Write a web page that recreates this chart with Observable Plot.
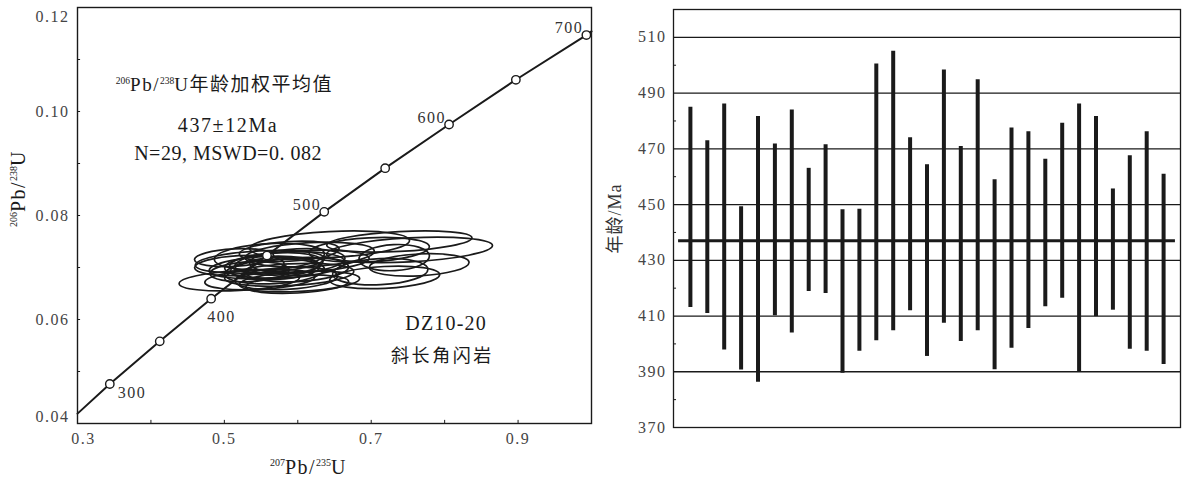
<!DOCTYPE html>
<html><head><meta charset="utf-8">
<script src="https://cdn.jsdelivr.net/npm/d3@7"></script>
<script src="https://cdn.jsdelivr.net/npm/@observablehq/plot@0.6"></script>
<style>
body{margin:0;background:#fff;}
#wrap{position:relative;width:1187px;height:477px;overflow:hidden;background:#fff;}
#left{position:absolute;left:0;top:0;}
#right{position:absolute;left:600px;top:0;}
</style></head><body><div id="wrap"><div id="left"></div><div id="right"></div></div>
<script>
// ---------- Left panel: concordia ----------
const ages = [300, 350, 400, 450, 500, 550, 600, 650, 700];
const ratio207 = [0.344, 0.412, 0.482, 0.558, 0.636, 0.719, 0.806, 0.897, 0.993];
const ratio206 = [0.0476, 0.0558, 0.0640, 0.0723, 0.0807, 0.0891, 0.0975, 0.1061, 0.1147];
const curveX = [0.300, 0.344, 0.412, 0.482, 0.558, 0.636, 0.719, 0.806, 0.897, 0.993, 1.000];
const curveY = [0.0419, 0.0476, 0.0558, 0.0640, 0.0723, 0.0807, 0.0891, 0.0975, 0.1061, 0.1147, 0.1154];

// error ellipses (centres and half-axes in data units)
const ellX  = [0.521,0.549,0.562,0.583,0.569,0.603,0.589,0.549,0.603,0.600,0.617,0.644,0.585,0.600,0.698,0.713,0.732,0.753,0.739,0.719,0.521,0.589,0.535,0.600,0.575,0.555,0.514,0.766,0.570];
const ellY  = [0.0674,0.0710,0.0720,0.0704,0.0691,0.0710,0.0685,0.0676,0.0672,0.0695,0.0724,0.0743,0.0678,0.0712,0.0733,0.0691,0.0718,0.0733,0.0749,0.0680,0.0703,0.0730,0.0691,0.0667,0.0706,0.0699,0.0718,0.0704,0.0697];
const ellRx = [0.082,0.088,0.075,0.082,0.068,0.095,0.088,0.075,0.082,0.070,0.088,0.109,0.070,0.065,0.082,0.065,0.048,0.113,0.099,0.075,0.061,0.068,0.054,0.070,0.060,0.075,0.054,0.068,0.061];
const ellRy = [0.0019,0.0021,0.0025,0.0025,0.0023,0.0021,0.0021,0.0019,0.0019,0.0023,0.0023,0.0025,0.0021,0.0023,0.0023,0.0025,0.0025,0.0023,0.0019,0.0021,0.0019,0.0019,0.0019,0.0017,0.0021,0.0021,0.0017,0.0021,0.0021];

const xLabelsL = [0.3, 0.5, 0.7, 0.9];
const xTicksL = [0.4, 0.5, 0.6, 0.7, 0.8, 0.9];
const yLabelsL = [0.06, 0.08, 0.10];
const yTicksL = [0.05, 0.06, 0.07, 0.08, 0.09, 0.10, 0.11];

// ---------- Right panel: ages ----------
const spots = d3.range(1, 30);
const ageHigh = [484.9,472.9,486.1,449.2,481.6,471.7,483.9,463.0,471.5,448.1,448.3,500.4,505.0,474.0,464.3,498.3,470.8,494.8,458.9,477.5,476.1,466.3,479.2,486.1,481.6,455.6,467.5,476.1,460.9];
const ageLow  = [413.1,410.9,397.8,390.6,386.2,410.1,403.9,418.8,418.1,389.5,397.4,401.1,404.7,411.9,395.5,407.4,400.9,404.7,390.7,398.4,405.5,413.3,416.4,390.0,409.8,412.1,398.1,397.4,392.6];
const meanAge = 437;
const yLabelsR = [370, 390, 410, 430, 450, 470, 490, 510];
const gridR = [390, 410, 430, 450, 470, 490, 510];
const minorR = [380, 400, 420, 440, 460, 480, 500];

const SERIF = "'Liberation Serif','Noto Sans CJK SC',serif";
const INK = "#1a1a1a";
const GRAY = "#454545";
const idx = a => ages.indexOf(a);
const T = {lineAnchor: "middle"};

const left = Plot.plot({
  width: 600, height: 477,
  marginLeft: 77, marginRight: 9, marginTop: 7, marginBottom: 54,
  x: {domain: [0.3, 1.0], axis: null},
  y: {domain: [0.04, 0.12], axis: null},
  style: {fontFamily: SERIF, background: "#fff"},
  marks: [
    // inside ticks
    Plot.ruleX(xTicksL, {x: d => d, y1: 0.04, y2: 0.04 + 0.0006, stroke: INK, strokeWidth: 1}),
    Plot.ruleY(yTicksL, {y: d => d, x1: 0.3, x2: 0.3 + 0.0042, stroke: INK, strokeWidth: 1}),
    // ellipses
    (index, scales) => {
      const {x, y} = scales;
      const g = d3.create("svg:g").attr("fill", "none").attr("stroke", INK).attr("stroke-width", 1.7);
      for (let i = 0; i < ellX.length; i++) {
        const cx = x(ellX[i]), cy = y(ellY[i]);
        const rx = Math.abs(x(ellX[i] + ellRx[i]) - cx), ry = Math.abs(y(ellY[i] + ellRy[i]) - cy);
        g.append("ellipse").attr("cx", cx).attr("cy", cy).attr("rx", rx).attr("ry", ry)
          .attr("transform", `rotate(-3 ${cx} ${cy})`);
      }
      return g.node();
    },
    Plot.line(curveX, {x: curveX, y: curveY, stroke: INK, strokeWidth: 2}),
    Plot.dot(ages, {x: ratio207, y: ratio206, r: 4.2, fill: "white", stroke: INK, strokeWidth: 1.4}),
    // age labels
    Plot.text([300], {...T, x: a => ratio207[idx(a)], y: a => ratio206[idx(a)], text: a => String(a), textAnchor: "start", dx: 8, dy: 9, fontSize: 16, fill: "#333", ariaDescription: "agelab"}),
    Plot.text([400], {...T, x: a => ratio207[idx(a)], y: a => ratio206[idx(a)], text: a => String(a), textAnchor: "start", dx: -4, dy: 18, fontSize: 16, fill: "#333", ariaDescription: "agelab"}),
    Plot.text([500, 600, 700], {...T, x: a => ratio207[idx(a)], y: a => ratio206[idx(a)], text: a => String(a), textAnchor: "end", dx: -3, dy: -7, fontSize: 16, fill: "#333", ariaDescription: "agelab"}),
    // tick labels
    Plot.text(yLabelsL, {...T, frameAnchor: "left", y: d => d, text: d => d.toFixed(2), textAnchor: "end", dx: -8, fontSize: 16, fill: GRAY, ariaDescription: "ticklab"}),
    Plot.text([0.12], {...T, frameAnchor: "left", y: d => d, text: d => d.toFixed(2), textAnchor: "end", dx: -8, dy: 9, fontSize: 16, fill: GRAY, ariaDescription: "ticklab"}),
    Plot.text([0.04], {...T, frameAnchor: "left", y: d => d, text: d => d.toFixed(2), textAnchor: "end", dx: -8, dy: -7, fontSize: 16, fill: GRAY, ariaDescription: "ticklab"}),
    Plot.text(xLabelsL.slice(1), {...T, frameAnchor: "bottom", x: d => d, text: d => d.toFixed(1), textAnchor: "middle", dy: 15, fontSize: 16, fill: GRAY, ariaDescription: "ticklab"}),
    Plot.text(xLabelsL.slice(0, 1), {...T, frameAnchor: "bottom", x: d => d, text: d => d.toFixed(1), textAnchor: "middle", dx: 6, dy: 15, fontSize: 16, fill: GRAY, ariaDescription: "ticklab"}),
    // axis titles
    Plot.text(["{206}Pb/{238}U"], {...T, frameAnchor: "left", text: d => d, textAnchor: "middle", rotate: -90, dx: -59, dy: -27, fontSize: 20, fill: INK, ariaDescription: "title"}),
    Plot.text(["{207}Pb/{235}U"], {...T, frameAnchor: "bottom", text: d => d, textAnchor: "middle", dx: -26, dy: 44, fontSize: 20, fill: INK, ariaDescription: "title"}),
    // annotations
    Plot.text(["{206}Pb/{238}U年龄加权平均值"], {...T, x: 0.50, y: 0.1051, text: d => d, fontSize: 19, fill: INK, ariaDescription: "noteCJK"}),
    Plot.text(["437±12Ma"], {...T, x: 0.505, y: 0.0972, text: d => d, fontSize: 20, fill: INK, ariaDescription: "noteWide"}),
    Plot.text(["N=29, MSWD=0. 082"], {...T, x: 0.505, y: 0.0920, text: d => d, fontSize: 20, fill: INK, ariaDescription: "note"}),
    Plot.text(["DZ10-20"], {...T, x: 0.802, y: 0.0593, text: d => d, fontSize: 20, fill: INK, ariaDescription: "noteMid"}),
    Plot.text(["斜长角闪岩"], {...T, x: 0.797, y: 0.0530, text: d => d, fontSize: 18, fill: INK, ariaDescription: "noteCJK2"}),
    Plot.frame({stroke: INK, strokeWidth: 1.4})
  ]
});

const right = Plot.plot({
  width: 587, height: 477,
  marginLeft: 73, marginRight: 7, marginTop: 9, marginBottom: 50,
  x: {domain: [0, 30], axis: null},
  y: {domain: [370, 520], axis: null},
  style: {fontFamily: SERIF, background: "#fff"},
  marks: [
    Plot.ruleY(gridR, {y: d => d, stroke: INK, strokeWidth: 1.3}),
    Plot.ruleY(minorR, {y: d => d, x1: 0, x2: 0.18, stroke: INK, strokeWidth: 1}),
    Plot.ruleX(spots, {x: spots, y1: ageLow, y2: ageHigh, stroke: INK, strokeWidth: 4}),
    Plot.ruleY([meanAge], {y: d => d, x1: 0.3, x2: 29.7, stroke: INK, strokeWidth: 3}),
    Plot.text(yLabelsR, {...T, frameAnchor: "left", y: d => d, text: d => String(d), textAnchor: "end", dx: -7, fontSize: 16, fill: GRAY, ariaDescription: "ticklab"}),
    Plot.text(["年龄/Ma"], {...T, frameAnchor: "left", text: d => d, textAnchor: "middle", rotate: -90, dx: -58, dy: 0, fontSize: 18, fill: "#333", ariaDescription: "ytitleR"}),
    Plot.frame({stroke: INK, strokeWidth: 1.3})
  ]
});

document.getElementById("left").appendChild(left);
document.getElementById("right").appendChild(right);

function richText(svg) {
  d3.select(svg).selectAll("text").each(function() {
    const t = this.textContent;
    if (!t.includes("{")) return;
    const fs = parseFloat(getComputedStyle(this).fontSize) || 16;
    const parts = t.split(/(\{[^}]*\})/).filter(s => s);
    while (this.firstChild) this.removeChild(this.firstChild);
    for (const p of parts) {
      const ts = document.createElementNS("http://www.w3.org/2000/svg", "tspan");
      if (p.startsWith("{")) {
        ts.textContent = p.slice(1, -1);
        ts.setAttribute("font-size", (fs * 0.5) + "px");
        ts.setAttribute("baseline-shift", (fs * 0.38) + "px");
        ts.style.letterSpacing = "0px";
      } else {
        ts.textContent = p;
      }
      this.appendChild(ts);
    }
  });
}
const spacing = {ticklab: "1.5px", agelab: "1.5px", note: "0.5px", noteWide: "1.6px", noteMid: "1.2px", noteCJK: "1.5px", noteCJK2: "2.6px", title: "1.5px", ytitleR: "1px"};
for (const svg of [left, right]) {
  for (const [k, v] of Object.entries(spacing)) {
    d3.select(svg).selectAll(`g[aria-description="${k}"] text`).style("letter-spacing", v);
  }
  richText(svg);
}
</script></body></html>
